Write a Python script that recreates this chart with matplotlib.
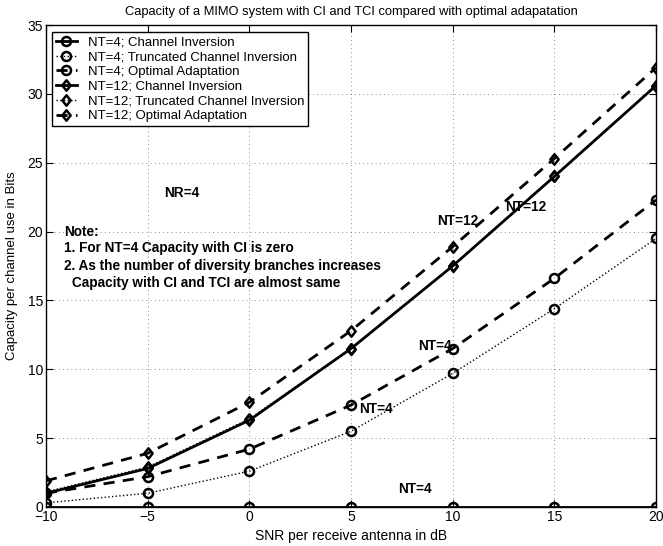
import matplotlib
matplotlib.use("Agg")
import matplotlib.pyplot as plt
from matplotlib.path import Path

plt.rcParams['font.family'] = ['Liberation Sans', 'DejaVu Sans']

snr = [-10, -5, 0, 5, 10, 15, 20]
nt4_ci = [0, 0, 0, 0, 0, 0, 0]
nt4_tci = [0.3, 1.0, 2.6, 5.5, 9.7, 14.4, 19.5]
nt4_oa = [1.0, 2.2, 4.2, 7.4, 11.5, 16.6, 22.3]
nt12_ci = [1.0, 2.8, 6.3, 11.5, 17.5, 24.0, 30.6]
nt12_tci = [1.1, 2.9, 6.4, 11.5, 17.5, 24.0, 30.6]
nt12_oa = [1.9, 3.9, 7.6, 12.8, 18.9, 25.3, 31.9]

labels = ["NT=4; Channel Inversion", "NT=4; Truncated Channel Inversion",
          "NT=4; Optimal Adaptation", "NT=12; Channel Inversion",
          "NT=12; Truncated Channel Inversion", "NT=12; Optimal Adaptation"]

diamond = Path([(0, 1), (0.8, 0), (0, -1), (-0.8, 0), (0, 1)],
               [Path.MOVETO, Path.LINETO, Path.LINETO, Path.LINETO, Path.CLOSEPOLY])

fig = plt.figure(figsize=(6.63, 5.46), dpi=100)
ax = fig.add_axes([46/663, 1-507/546, 610/663, 482/546])

mk = dict(markerfacecolor='none', markeredgecolor='black', color='black', markeredgewidth=1.8)
ax.plot(snr, nt4_ci, '-', marker='o', markersize=6.5, linewidth=2, label=labels[0], **mk)
ax.plot(snr, nt4_tci, ':', marker='o', markersize=6.5, linewidth=1, label=labels[1], **mk)
ax.plot(snr, nt4_oa, '--', marker='o', markersize=6.5, linewidth=2, dashes=(4, 3), label=labels[2], **mk)
ax.plot(snr, nt12_ci, '-', marker=diamond, markersize=7.5, linewidth=2, label=labels[3], **mk)
ax.plot(snr, nt12_tci, ':', marker=diamond, markersize=7.5, linewidth=1, label=labels[4], **mk)
ax.plot(snr, nt12_oa, '--', marker=diamond, markersize=7.5, linewidth=2, dashes=(4, 3), label=labels[5], **mk)

ax.set_xlim(-10, 20)
ax.set_ylim(0, 35)
ax.set_xticks([-10, -5, 0, 5, 10, 15, 20])
ax.set_yticks([0, 5, 10, 15, 20, 25, 30, 35])
ax.set_xticklabels(['\u221210', '\u22125', '0', '5', '10', '15', '20'])
ax.grid(True, linestyle=(0, (1, 4)), color='black', linewidth=0.6, alpha=0.6)
ax.tick_params(direction='in', top=True, right=True, labelsize=10, length=5, width=0.8, pad=2)
for s in ax.spines.values():
    s.set_linewidth(1.0)

ax.set_title("Capacity of a MIMO system with CI and TCI compared with optimal adapatation", fontsize=9.3, pad=7)
ax.set_xlabel("SNR per receive antenna in dB", fontsize=10, labelpad=4)
ax.set_ylabel("Capacity per channel use in Bits", fontsize=9.5, labelpad=7)

bold = dict(fontsize=9.8, fontweight='bold', va='center', ha='left')
ax.text(-4.2, 22.8, "NR=4", **bold)
ax.text(-9.1, 20.0, "Note:", **bold)
ax.text(-9.1, 18.8, "1. For NT=4 Capacity with CI is zero", **bold)
ax.text(-9.1, 17.5, "2. As the number of diversity branches increases", **bold)
ax.text(-8.7, 16.3, "Capacity with CI and TCI are almost same", **bold)
ax.text(9.24, 20.8, "NT=12", **bold)
ax.text(12.6, 21.8, "NT=12", **bold)
ax.text(8.3, 11.7, "NT=4", **bold)
ax.text(5.4, 7.1, "NT=4", **bold)
ax.text(7.3, 1.3, "NT=4", **bold)

leg = ax.legend(loc='upper left', bbox_to_anchor=(0.0098, 0.985), borderaxespad=0,
                fontsize=9.5, handlelength=1.6, handletextpad=0.8, labelspacing=0.19,
                borderpad=0.3, fancybox=False, framealpha=1, edgecolor='black')
leg.get_frame().set_linewidth(1.0)

fig.savefig("out.png", dpi=100)
